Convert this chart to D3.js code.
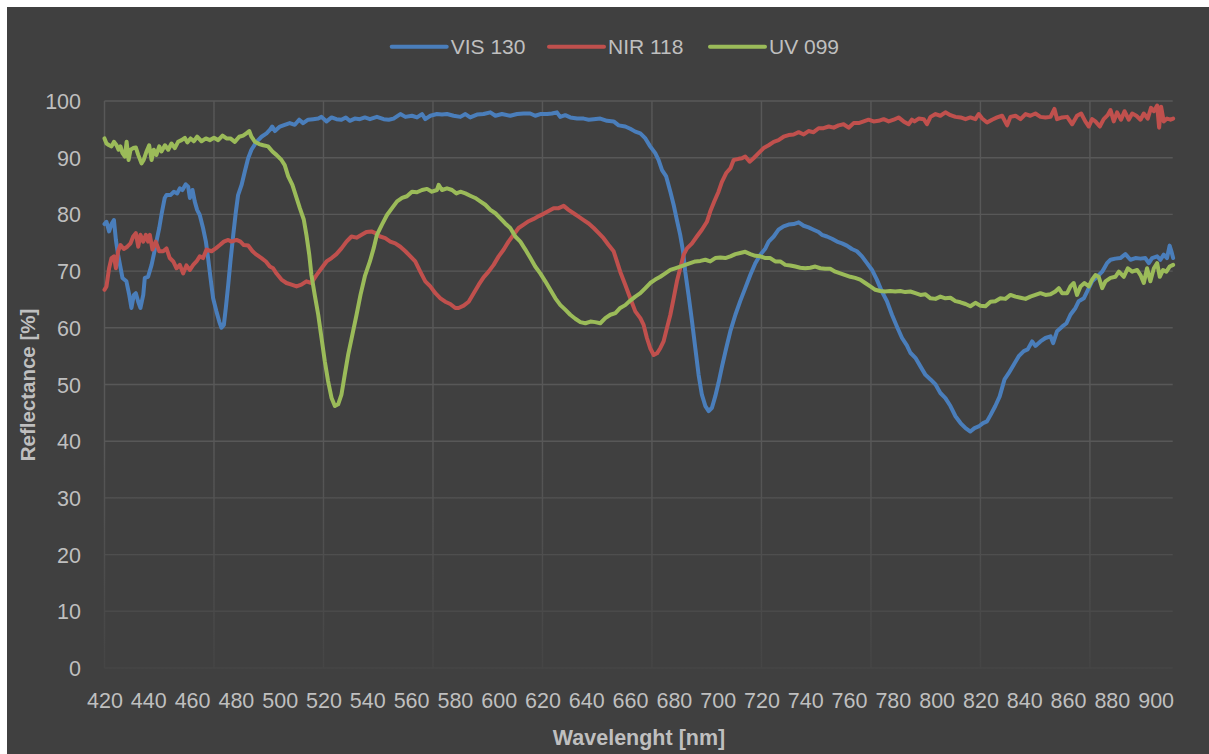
<!DOCTYPE html>
<html>
<head>
<meta charset="utf-8">
<script src="https://cdn.jsdelivr.net/npm/d3@7"></script>
<style>
  html, body { margin: 0; padding: 0; background: #ffffff; }
  svg { display: block; }
  text { font-family: "Liberation Sans", Arial, sans-serif; }
</style>
</head>
<body>
<div class="graph"></div>
<script>
// wavelength [nm], reflectance [%]
var visData = [
  [420.0,78.3],[420.9,78.7],[422.1,77.0],[423.2,78.3],[424.3,79.0],[425.2,75.5],[426.2,72.9],[428.2,68.8],
  [430.0,68.2],[431.3,65.8],[432.3,63.5],[433.4,65.8],[434.3,66.1],[435.4,64.6],[436.4,63.5],[437.7,65.8],
  [438.4,68.8],[439.9,69.0],[441.5,71.1],[442.5,72.9],[443.7,75.2],[445.0,77.6],[446.0,79.9],[447.5,82.9],
  [448.3,83.4],[450.1,83.4],[451.7,84.0],[453.2,83.7],[454.4,84.6],[455.6,84.3],[457.1,85.3],[458.2,84.9],
  [459.0,82.9],[460.2,84.3],[461.2,82.3],[462.3,80.8],[463.5,79.9],[465.0,77.6],[466.3,75.2],[467.3,72.3],
  [468.6,68.2],[469.6,65.2],[471.1,62.9],[472.4,61.1],[473.4,60.0],[474.5,60.5],[475.4,63.5],[476.5,67.6],
  [477.5,71.7],[478.8,76.4],[480.0,80.5],[481.0,83.4],[482.6,85.2],[484.1,87.6],[485.6,89.9],[487.1,91.4],
  [489.4,92.8],[491.7,93.7],[494.0,94.3],[495.5,94.9],[496.6,95.5],[497.8,94.7],[500.1,95.5],[502.3,95.8],
  [504.6,96.1],[506.9,95.8],[508.9,96.7],[510.7,96.1],[513.0,96.7],[515.3,96.8],[517.6,96.9],[519.1,97.2],
  [521.4,96.4],[523.7,97.1],[525.9,96.8],[528.2,96.7],[530.2,97.1],[532.0,96.5],[534.3,96.9],[536.6,96.8],
  [538.9,97.1],[541.2,96.8],[544.4,97.2],[547.5,96.8],[549.8,96.7],[552.0,96.9],[555.1,97.7],[557.4,97.2],
  [560.4,97.4],[562.7,97.1],[565.0,97.7],[566.5,96.8],[568.8,97.4],[571.8,97.7],[574.1,97.6],[576.4,97.7],
  [579.4,97.4],[582.5,97.2],[584.8,97.7],[587.0,97.1],[590.1,97.6],[593.1,97.7],[596.2,98.0],[598.5,97.4],
  [601.5,97.7],[605.3,97.4],[608.4,97.7],[611.4,97.8],[614.4,97.8],[616.7,97.4],[619.0,97.7],[622.1,97.7],
  [624.3,97.8],[626.6,98.0],[628.1,97.2],[630.4,97.5],[632.7,97.1],[635.8,96.9],[638.8,96.9],[641.1,96.7],
  [643.4,96.8],[646.4,96.9],[649.5,96.5],[652.5,96.4],[654.8,95.7],[657.8,95.5],[660.1,95.1],[662.4,94.6],
  [664.7,94.3],[667.0,93.4],[669.2,92.0],[671.5,90.8],[673.0,89.6],[674.6,87.8],[676.5,86.7],[678.4,84.0],
  [679.9,81.7],[681.4,79.0],[682.9,76.4],[684.2,73.5],[685.2,69.9],[686.7,65.8],[688.3,61.1],[689.8,56.4],
  [691.3,51.7],[692.8,48.2],[694.4,46.2],[695.9,45.3],[697.4,45.9],[698.9,47.9],[700.4,50.3],[702.0,53.2],
  [703.9,56.4],[705.8,59.4],[708.1,62.3],[710.3,64.7],[712.6,67.0],[714.9,69.3],[717.2,71.4],[719.5,72.9],
  [721.8,74.0],[723.3,75.2],[725.6,76.1],[727.8,77.3],[730.1,77.9],[732.4,78.2],[734.7,78.3],[737.0,78.6],
  [739.3,78.0],[741.5,77.7],[743.8,77.3],[746.1,76.9],[747.6,76.4],[749.9,76.1],[752.2,75.7],[754.5,75.2],
  [756.8,74.9],[759.0,74.5],[761.3,73.9],[763.6,73.5],[765.9,72.6],[768.2,71.4],[770.5,70.2],[772.7,68.5],
  [775.0,66.4],[777.3,64.7],[779.6,62.3],[781.9,60.2],[784.2,58.2],[786.4,56.9],[788.0,55.6],[790.3,54.7],
  [792.6,53.2],[794.9,51.7],[797.2,50.9],[799.5,50.0],[801.7,48.5],[804.0,47.6],[806.3,46.2],[808.6,44.4],
  [810.9,43.2],[813.2,42.3],[815.4,41.7],[817.3,42.3],[819.2,42.6],[821.2,43.2],[823.0,43.5],[824.6,44.6],
  [826.8,46.2],[828.8,47.9],[831.0,50.9],[832.9,52.0],[835.2,53.5],[837.5,55.0],[839.8,55.9],[841.6,56.2],
  [843.6,57.6],[845.1,56.8],[847.4,57.6],[849.7,58.2],[852.0,58.5],[853.2,57.3],[855.0,59.4],[857.3,60.2],
  [859.3,60.8],[861.1,62.3],[863.4,63.5],[864.9,64.7],[867.2,65.2],[868.7,66.4],[871.0,68.2],[873.3,69.0],
  [875.6,69.9],[877.8,71.4],[879.4,72.0],[881.6,72.2],[883.9,72.3],[886.2,73.0],[888.5,72.0],[890.8,72.3],
  [893.1,72.2],[895.3,72.3],[896.9,71.4],[898.4,72.3],[900.7,72.6],[902.2,72.0],[903.7,72.9],[905.2,72.3],
  [906.4,74.5],[907.2,73.5],[908.0,72.3]
];

var nirData = [
  [420.0,66.7],[420.9,67.3],[422.1,70.5],[423.2,72.3],[424.3,72.6],[425.2,70.5],[426.2,73.5],[427.3,74.6],
  [428.8,73.9],[430.4,74.3],[431.9,74.9],[433.1,76.1],[434.3,76.7],[435.4,74.3],[436.4,76.4],[437.7,75.2],
  [438.9,76.4],[439.9,75.2],[440.7,76.4],[441.9,73.8],[443.4,75.2],[445.0,73.5],[446.8,73.5],[448.3,74.0],
  [449.8,72.3],[451.4,71.7],[452.9,70.5],[454.4,71.1],[455.9,69.6],[457.4,71.0],[459.0,70.2],[460.5,71.1],
  [462.0,71.7],[463.5,72.6],[465.0,72.3],[466.6,73.8],[468.9,73.5],[470.8,74.0],[472.7,74.6],[474.5,75.2],
  [476.5,75.5],[478.0,75.2],[480.3,75.5],[482.1,75.2],[483.6,74.6],[485.6,74.5],[487.6,73.5],[489.4,72.9],
  [491.7,72.3],[493.7,71.7],[495.5,70.8],[497.0,70.5],[498.5,69.6],[500.8,68.5],[503.1,67.9],[505.4,67.6],
  [507.7,67.3],[509.9,67.6],[512.2,68.2],[514.5,67.9],[516.8,69.3],[519.1,70.5],[521.4,71.7],[523.7,72.3],
  [525.9,73.0],[528.2,74.0],[530.5,75.2],[532.8,76.1],[535.1,75.9],[537.4,76.4],[539.6,76.9],[541.9,77.0],
  [543.7,76.7],[545.9,76.1],[548.2,75.8],[550.5,75.2],[552.8,74.9],[555.1,74.3],[557.4,73.5],[559.7,72.6],
  [561.9,71.7],[564.2,69.9],[566.5,68.2],[568.8,67.3],[571.1,66.1],[573.4,65.2],[575.6,64.6],[577.9,64.2],
  [580.2,63.5],[581.7,63.5],[584.0,63.9],[586.3,64.6],[588.6,66.1],[590.9,67.6],[593.1,68.9],[595.4,69.9],
  [597.7,71.1],[600.0,72.6],[602.3,73.8],[604.5,75.2],[606.8,76.4],[609.1,77.6],[611.4,78.2],[613.7,78.8],
  [616.0,79.2],[618.3,79.7],[620.5,80.1],[622.8,80.6],[625.1,81.1],[627.4,81.1],[629.7,81.5],[631.9,80.8],
  [634.2,80.2],[636.5,79.6],[638.8,79.0],[641.1,78.4],[643.4,77.6],[645.7,76.7],[647.9,75.8],[650.2,74.6],
  [652.5,73.5],[654.0,71.7],[655.5,69.9],[657.8,67.6],[660.1,65.2],[662.4,62.9],[664.7,61.7],[666.2,60.5],
  [667.7,58.2],[669.2,56.4],[670.8,55.2],[672.3,55.5],[673.8,56.4],[675.3,57.6],[676.8,59.9],[678.4,62.3],
  [679.9,65.2],[681.4,68.2],[682.9,70.5],[684.5,72.9],[686.0,74.0],[688.3,74.9],[690.5,76.1],[692.8,77.3],
  [695.1,78.7],[696.6,80.5],[698.5,82.3],[700.4,84.0],[701.9,85.7],[703.9,87.3],[705.8,88.1],[707.3,89.6],
  [709.6,89.8],[711.1,89.9],[712.6,90.2],[714.6,89.3],[716.4,89.9],[718.7,90.8],[721.0,91.7],[723.3,92.2],
  [725.6,92.8],[727.8,93.1],[730.1,93.7],[732.4,94.0],[734.7,94.1],[737.0,94.5],[739.3,94.1],[741.5,94.7],
  [743.8,94.5],[746.1,95.2],[748.4,95.2],[750.7,95.5],[753.0,95.3],[755.2,95.7],[757.5,95.9],[759.8,95.3],
  [762.1,96.1],[764.4,96.1],[766.7,96.4],[768.9,96.7],[771.2,96.4],[773.5,96.5],[775.8,96.8],[778.1,96.4],
  [780.4,96.7],[782.6,97.1],[784.9,96.4],[787.2,95.9],[788.7,96.7],[789.9,96.4],[791.8,96.9],[794.1,96.8],
  [795.6,95.9],[797.2,97.2],[799.5,97.7],[801.7,97.4],[804.0,98.0],[806.3,97.5],[808.6,97.2],[810.9,97.1],
  [813.2,96.8],[815.4,97.1],[817.7,96.8],[819.2,97.7],[820.8,96.9],[823.0,96.2],[825.3,96.7],[827.6,97.1],
  [829.9,97.4],[832.2,95.7],[833.7,97.2],[836.0,97.4],[838.3,96.8],[840.6,97.7],[842.8,97.4],[845.1,97.8],
  [847.4,97.2],[849.7,97.1],[852.0,97.2],[853.8,98.6],[855.0,96.8],[857.3,97.1],[859.6,97.2],[861.9,95.9],
  [864.1,97.4],[866.0,97.8],[867.9,96.4],[869.5,95.5],[871.0,96.8],[872.5,96.4],[874.5,95.5],[876.3,96.8],
  [878.1,97.5],[879.4,98.4],[880.9,96.4],[882.4,98.0],[884.2,96.7],[885.8,98.2],[887.7,96.7],[889.3,97.8],
  [891.2,97.4],[893.1,96.7],[894.6,97.8],[896.4,96.9],[897.9,98.8],[899.2,98.2],[900.7,99.2],[901.6,95.3],
  [902.5,99.0],[903.7,96.4],[905.2,96.9],[906.8,96.7],[908.0,96.9]
];

var uvData = [
  [420.0,93.4],[420.9,92.5],[422.1,92.2],[423.2,92.0],[424.3,92.8],[425.5,92.2],[426.4,91.4],[427.3,92.0],
  [428.2,90.8],[429.3,90.2],[430.1,92.8],[431.0,89.6],[431.9,91.4],[433.1,91.7],[434.3,91.8],[435.4,90.5],
  [436.9,89.0],[437.9,89.6],[439.2,91.1],[440.4,92.2],[441.5,89.6],[442.5,91.4],[443.7,90.5],[445.0,92.0],
  [446.0,91.1],[447.6,92.2],[449.1,91.4],[450.6,92.5],[452.1,91.7],[453.6,92.8],[455.2,93.1],[456.7,93.5],
  [457.8,92.7],[459.3,93.4],[460.8,92.9],[462.3,93.7],[464.3,92.9],[466.3,93.4],[468.1,93.1],[470.0,93.5],
  [471.9,93.1],[473.9,93.9],[475.7,93.4],[477.5,93.4],[479.5,92.8],[481.5,93.7],[483.3,93.9],[484.8,94.3],
  [486.1,94.7],[487.1,93.7],[488.7,92.8],[490.6,92.4],[492.5,92.2],[494.7,92.0],[496.7,91.1],[498.5,90.5],
  [500.8,89.6],[502.3,88.7],[503.9,86.7],[505.8,85.2],[507.7,82.9],[509.2,81.1],[511.0,79.1],[512.2,76.4],
  [513.5,72.9],[514.5,69.3],[516.0,65.8],[517.6,62.3],[519.1,58.2],[520.6,54.1],[522.1,50.6],[523.7,47.6],
  [525.2,46.2],[526.7,46.5],[528.2,48.2],[529.7,51.7],[531.3,55.3],[533.2,58.8],[535.1,62.3],[536.9,65.8],
  [538.9,69.1],[541.2,71.7],[542.9,74.0],[544.4,76.4],[546.7,78.2],[549.0,79.9],[551.3,81.1],[553.6,82.3],
  [555.9,82.9],[558.1,83.2],[560.4,84.0],[562.7,83.9],[565.0,84.3],[567.3,84.5],[569.5,84.0],[571.8,84.3],
  [572.6,85.2],[574.1,84.3],[576.4,84.6],[578.7,84.3],[580.7,83.7],[582.5,84.0],[584.8,83.7],[587.0,83.3],
  [589.3,82.9],[591.6,82.3],[593.9,81.7],[596.2,80.8],[598.5,80.2],[600.8,79.3],[603.0,78.4],[605.3,77.6],
  [607.6,76.1],[609.9,75.2],[612.2,73.8],[614.5,72.3],[616.7,70.8],[619.0,69.6],[621.3,68.2],[623.6,66.7],
  [625.9,65.2],[628.2,64.0],[630.4,63.2],[632.7,62.3],[635.0,61.6],[637.3,61.0],[639.6,60.8],[641.9,61.1],
  [644.1,61.0],[646.4,60.8],[648.7,61.7],[651.0,62.3],[653.3,62.6],[655.5,63.5],[657.8,64.0],[660.1,64.8],
  [662.4,65.5],[664.7,66.1],[667.0,67.0],[669.2,67.9],[671.5,68.5],[673.8,69.0],[676.1,69.6],[678.4,70.2],
  [680.6,70.5],[682.9,70.8],[685.2,71.1],[687.5,71.4],[689.8,71.7],[692.1,71.8],[694.4,72.0],[696.6,71.7],
  [698.9,72.3],[701.2,72.4],[703.5,72.3],[705.8,72.6],[708.1,73.0],[710.3,73.2],[712.6,73.4],[714.9,73.0],
  [717.2,72.7],[719.5,72.6],[721.8,72.3],[724.0,72.3],[726.3,71.7],[728.6,71.7],[730.9,71.1],[733.2,71.0],
  [735.5,70.8],[737.7,70.6],[740.0,70.5],[742.3,70.6],[744.6,70.8],[746.9,70.5],[749.1,70.4],[751.4,70.4],
  [753.7,69.9],[756.0,69.6],[758.3,69.3],[760.6,69.0],[762.8,68.8],[765.1,68.5],[767.4,67.9],[769.7,67.3],
  [772.0,66.7],[774.3,66.5],[776.5,66.4],[778.8,66.5],[781.1,66.4],[783.4,66.5],[785.7,66.3],[788.0,66.4],
  [790.3,66.1],[792.6,65.8],[794.9,65.9],[797.2,65.2],[799.5,65.1],[801.7,65.5],[804.0,65.2],[806.3,65.3],
  [808.6,64.7],[810.9,64.5],[813.2,64.2],[815.4,63.8],[817.7,64.4],[820.0,63.9],[822.3,63.8],[824.6,64.6],
  [826.8,64.7],[829.1,65.2],[831.4,65.1],[833.7,65.8],[836.0,65.5],[838.3,65.3],[840.6,65.1],[842.8,65.5],
  [845.1,65.8],[847.4,66.1],[849.7,65.8],[852.0,65.9],[854.2,66.4],[855.8,67.0],[857.3,66.1],[859.6,66.1],
  [861.1,67.3],[862.6,67.9],[864.1,65.8],[865.7,67.3],[867.5,67.9],[869.5,67.3],[871.0,68.5],[872.5,69.3],
  [874.0,69.0],[875.6,67.0],[877.1,68.2],[879.4,68.8],[881.6,69.0],[883.2,69.9],[885.5,69.0],[887.3,70.5],
  [889.3,69.9],[891.6,70.2],[893.1,69.3],[894.6,67.9],[896.1,70.5],[897.6,68.2],[899.2,70.5],[900.7,71.4],
  [901.9,69.0],[903.4,70.2],[904.9,69.9],[906.4,70.8],[908.0,71.1]
];

var seriesNames = ["VIS 130", "NIR 118", "UV 099"];
var seriesColors = ["#4a7ebb", "#c0504d", "#9bbb59"];
var xTicks = d3.range(420, 901, 20);
var xGridLines = d3.range(420, 871, 50);
var yTicks = d3.range(0, 101, 10);

var width = 1209;
var height = 754;
var margin = {left: 104.5, right: 36.3, top: 101, bottom: 86};

var svg = d3.select(".graph").append("svg")
  .attr("width", width)
  .attr("height", height);

svg.append("rect")
  .attr("x", 7).attr("y", 7)
  .attr("width", width - 7).attr("height", height - 7)
  .attr("fill", "#404040");

var x = d3.scaleLinear()
  .domain([420, 907.8])
  .range([margin.left, width - margin.right]);

var y = d3.scaleLinear()
  .domain([0, 100])
  .range([height - margin.bottom, margin.top]);

// gridlines fade out towards the bottom of the plot
var defs = svg.append("defs");
var grad = defs.append("linearGradient")
  .attr("id", "gridFade")
  .attr("gradientUnits", "userSpaceOnUse")
  .attr("x1", 0).attr("x2", 0)
  .attr("y1", y(40)).attr("y2", y(0));
grad.append("stop").attr("offset", 0).attr("stop-color", "#585858");
grad.append("stop").attr("offset", 1).attr("stop-color", "#454545");

var grid = svg.append("g").attr("class", "grid");

grid.selectAll(".hgrid")
  .data(yTicks)
  .enter().append("line")
  .attr("x1", x(420)).attr("x2", x(907.8))
  .attr("y1", d => y(d)).attr("y2", d => y(d))
  .attr("stroke", "url(#gridFade)")
  .attr("stroke-width", 1.4);

grid.selectAll(".vgrid")
  .data(xGridLines)
  .enter().append("line")
  .attr("x1", d => x(d)).attr("x2", d => x(d))
  .attr("y1", y(100)).attr("y2", y(0))
  .attr("stroke", "url(#gridFade)")
  .attr("stroke-width", 1.4);

var xAxis = d3.axisBottom(x).tickValues(xTicks).tickSize(0).tickPadding(0);
var xAxisGroup = svg.append("g")
  .attr("transform", "translate(0," + (y(0) + 40) + ")")
  .call(xAxis);
xAxisGroup.select(".domain").remove();
xAxisGroup.selectAll("text")
  .attr("y", 0).attr("dy", 0)
  .attr("fill", "#bfbfbf")
  .style("font-size", "21.5px");

var yAxis = d3.axisLeft(y).tickValues(yTicks).tickSize(0).tickPadding(0);
var yAxisGroup = svg.append("g")
  .attr("transform", "translate(81,0)")
  .call(yAxis);
yAxisGroup.select(".domain").remove();
yAxisGroup.selectAll("text")
  .attr("x", 0).attr("dy", "0.35em")
  .attr("fill", "#bfbfbf")
  .style("font-size", "21.5px");

svg.append("text")
  .attr("transform", "translate(35,385) rotate(-90)")
  .attr("text-anchor", "middle")
  .attr("fill", "#bfbfbf")
  .style("font-size", "20.5px")
  .style("font-weight", "bold")
  .text("Reflectance [%]");

svg.append("text")
  .attr("x", 639).attr("y", 745)
  .attr("text-anchor", "middle")
  .attr("fill", "#bfbfbf")
  .style("font-size", "21.5px")
  .style("font-weight", "bold")
  .text("Wavelenght [nm]");

var line = d3.line()
  .x(d => x(d[0]))
  .y(d => y(d[1]));

var allSeries = [visData, nirData, uvData];

svg.append("g").selectAll("path")
  .data(allSeries)
  .enter().append("path")
  .attr("fill", "none")
  .attr("stroke", (d, i) => seriesColors[i])
  .attr("stroke-width", 4)
  .attr("stroke-linejoin", "round")
  .attr("stroke-linecap", "round")
  .attr("d", line);

// legend
var legendX = [391.7, 549, 710];
var legend = svg.append("g").selectAll("g")
  .data(seriesNames)
  .enter().append("g")
  .attr("transform", (d, i) => "translate(" + legendX[i] + ",46.7)");

legend.append("line")
  .attr("x1", 0).attr("x2", 55)
  .attr("stroke", (d, i) => seriesColors[i])
  .attr("stroke-width", 4)
  .attr("stroke-linecap", "round");

legend.append("text")
  .attr("x", 59).attr("dy", "0.35em")
  .attr("fill", "#bfbfbf")
  .style("font-size", "21px")
  .text(d => d);
</script>
</body>
</html>
